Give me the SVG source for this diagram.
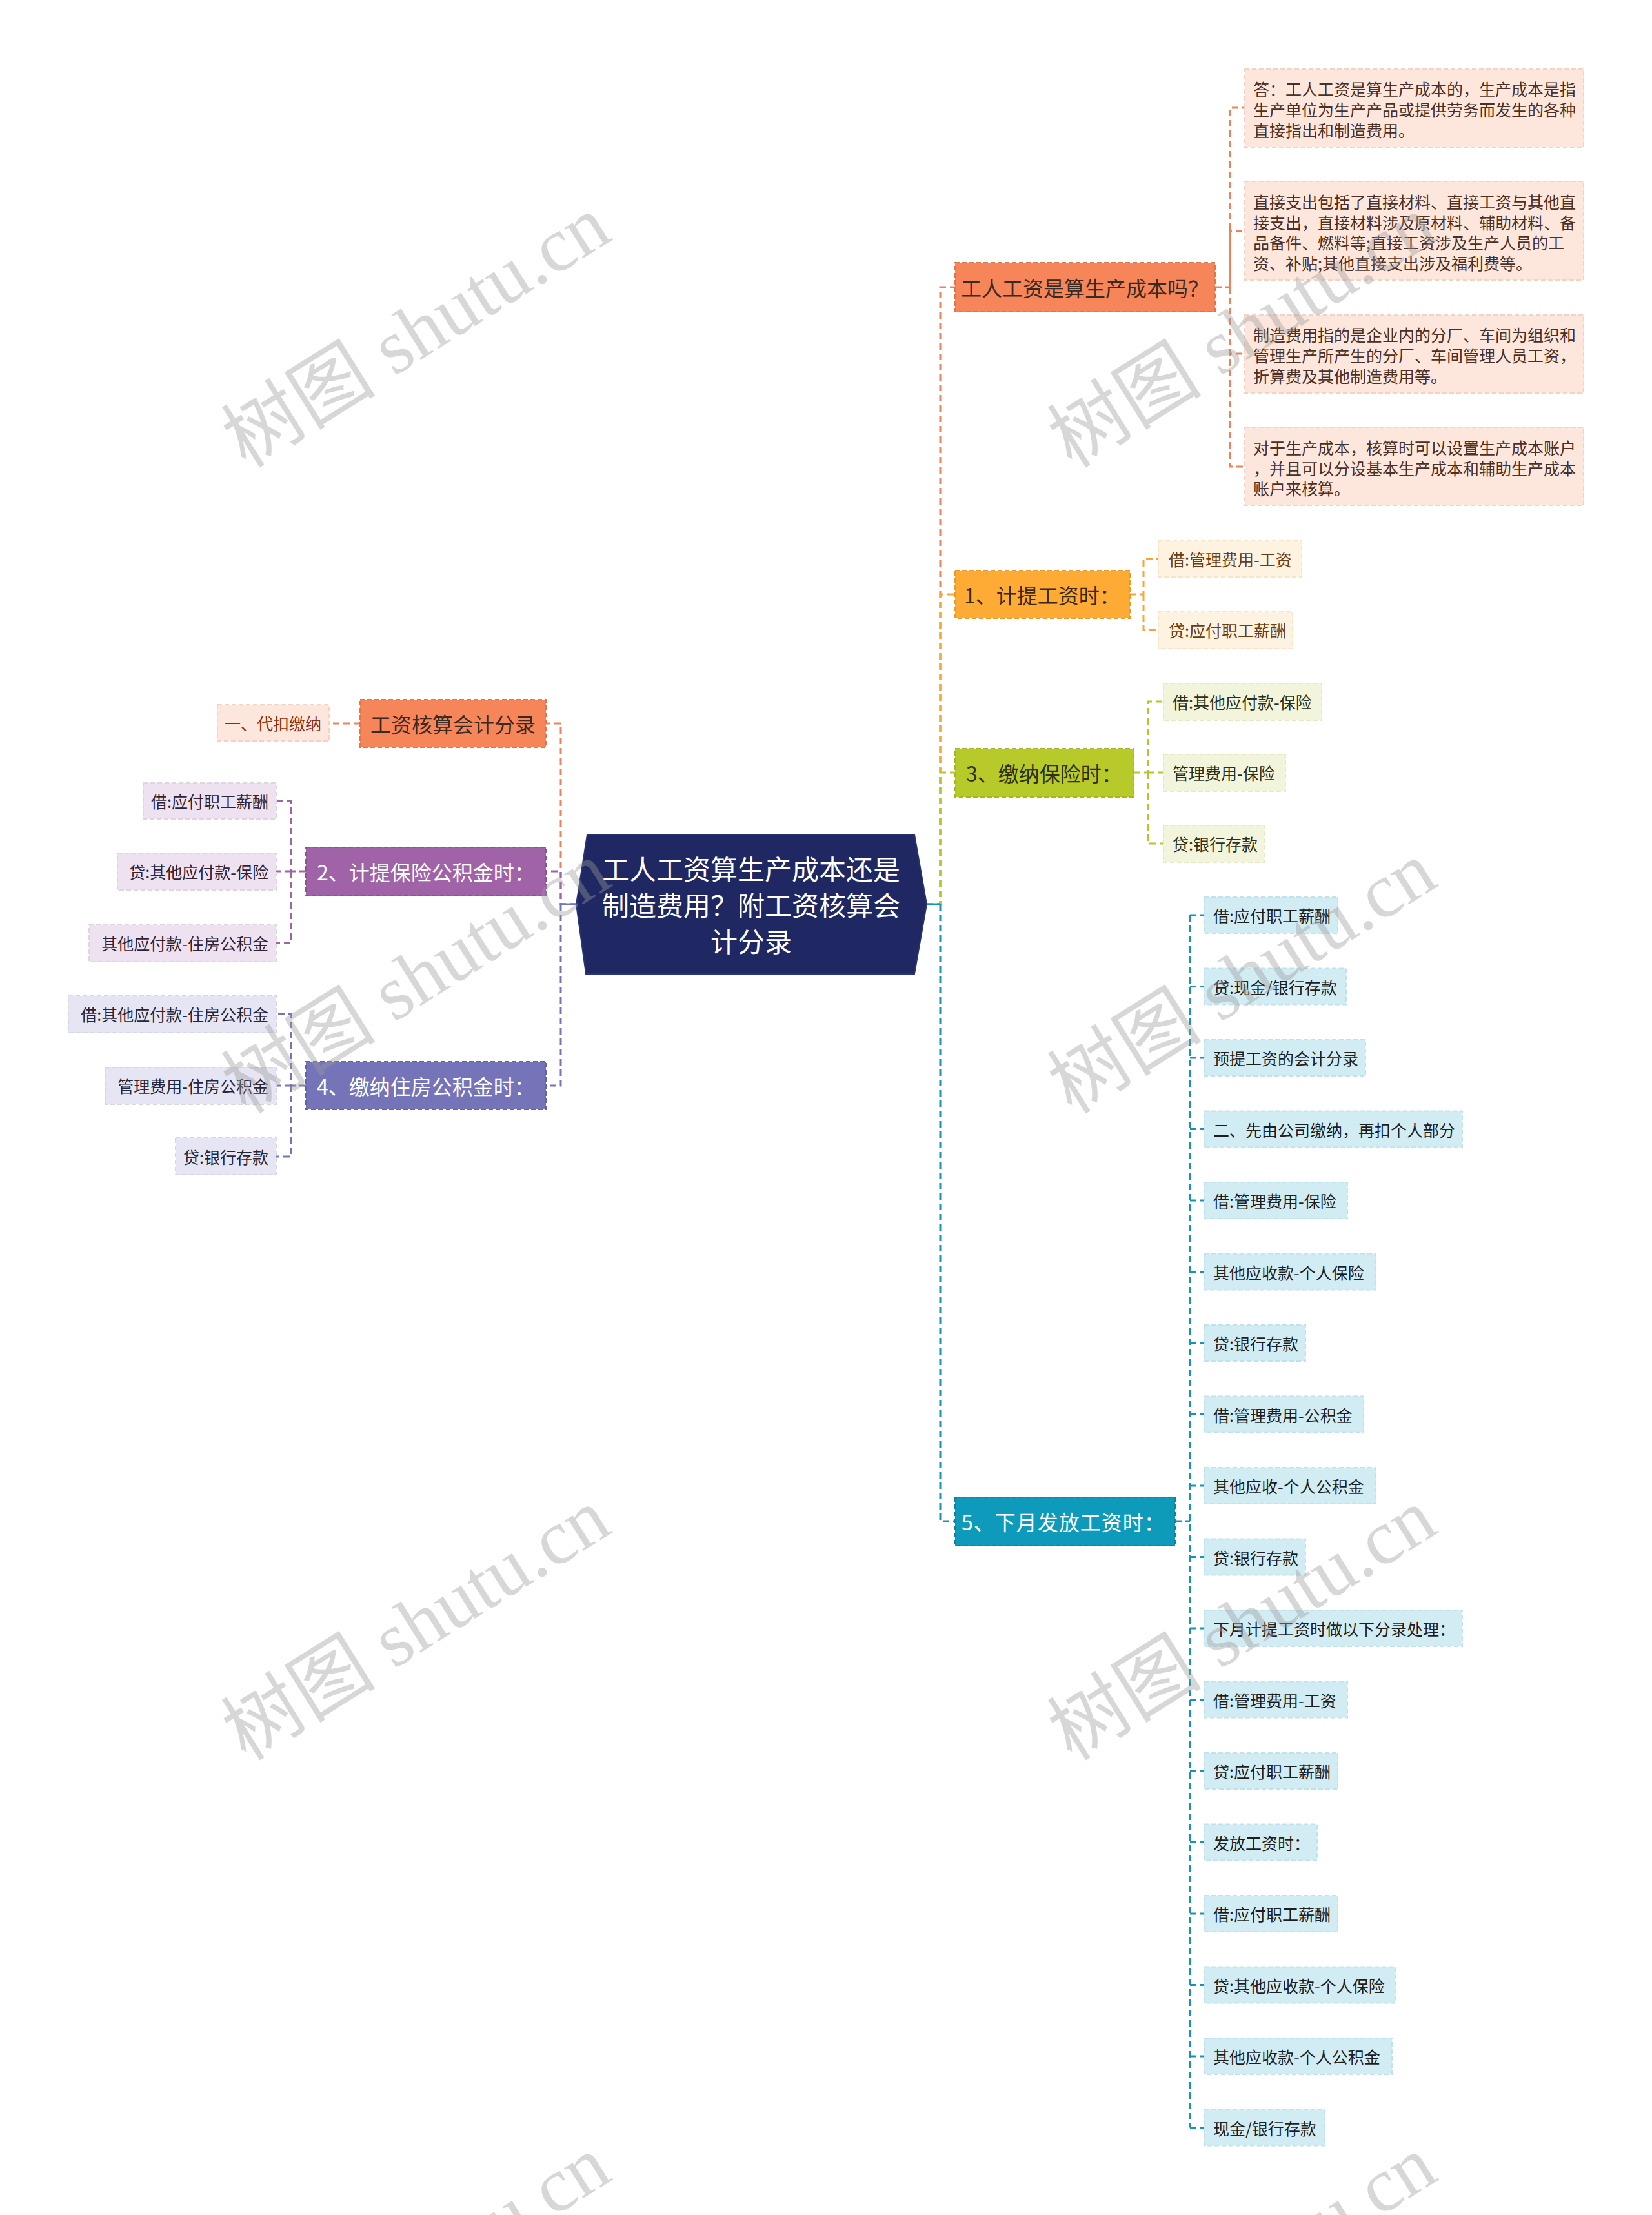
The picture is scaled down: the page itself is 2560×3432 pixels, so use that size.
<svg xmlns="http://www.w3.org/2000/svg" width="2560" height="3432" viewBox="0 0 2560 3432">
<style>
text{font-family:"Noto Sans CJK SC","Noto Sans",sans-serif;dominant-baseline:central}
.conn{fill:none;stroke-width:3;stroke-dasharray:10 6}
.solid{fill:none;stroke-width:3}
.br{stroke-width:2;stroke-dasharray:7 4}
.ch{stroke-width:2;stroke-dasharray:7 4}
.bt{font-size:32px;text-anchor:middle}
.ct{font-size:25px}
.mt{font-size:25px;fill:#4a3026}
.rt{font-size:42px;fill:#ffffff;text-anchor:middle}
.wm{font-family:"Liberation Serif","Noto Sans CJK SC",serif;font-size:120px;text-anchor:middle;fill:#9a9a9a;fill-opacity:0.4}
</style>
<rect width="2560" height="3432" fill="#ffffff"/>

<g id="connectors">
  <!-- right trunk -->
  <path class="conn" stroke="#ef8158" d="M1436 1401 H1457 V445 H1480"/>
  <path class="conn" stroke="#f6a537" d="M1436 1401 H1457 V921 H1480"/>
  <path class="conn" stroke="#b5c62b" d="M1436 1401 H1457 V1197 H1480"/>
  <path class="conn" stroke="#1594b5" d="M1457 1401 V2357 H1480"/>
  <path class="solid" stroke="#1594b5" d="M1436 1401 H1457"/>
  <!-- left trunk -->
  <path class="conn" stroke="#ef8158" d="M893 1401 H869 V1121 H846"/>
  <path class="conn" stroke="#a063a8" d="M893 1401 H869 V1350 H846"/>
  <path class="conn" stroke="#7574b9" d="M869 1401 V1682 H846"/>
  <path class="solid" stroke="#7574b9" d="M893 1401 H869"/>
  <!-- branch 工人工资是算生产成本吗 -->
  <path class="conn" stroke="#ef8158" d="M1883 445 H1906 V167 H1929 M1906 445 V358 H1929 M1906 445 V548 H1929 M1906 445 V723 H1929"/>
  <!-- branch 1 -->
  <path class="conn" stroke="#f6a537" d="M1751 921 H1772 V866 H1795 M1772 921 V976 H1795"/>
  <!-- branch 3 -->
  <path class="conn" stroke="#b5c62b" d="M1757 1197 H1779 V1087 H1803 M1779 1197 H1803 M1779 1197 V1307 H1803"/>
  <!-- branch 5 -->
  <path class="conn" stroke="#1594b5" d="M1821 2357 H1844 M1844 1418 V3296.5 M1844 1418 H1866 M1844 1528.5 H1866 M1844 1639 H1866 M1844 1749.5 H1866 M1844 1860 H1866 M1844 1970.5 H1866 M1844 2081 H1866 M1844 2191.5 H1866 M1844 2302 H1866 M1844 2412.5 H1866 M1844 2523 H1866 M1844 2633.5 H1866 M1844 2744 H1866 M1844 2854.5 H1866 M1844 2965 H1866 M1844 3075.5 H1866 M1844 3186 H1866 M1844 3296.5 H1866"/>
  <!-- left branches -->
  <path class="conn" stroke="#ef8158" d="M558 1121 H510"/>
  <path class="conn" stroke="#a063a8" d="M474 1350 H451 V1241 H428 M451 1350 H428 M451 1350 V1461 H428"/>
  <path class="conn" stroke="#7574b9" d="M474 1682 H451 V1571 H428 M451 1682 H428 M451 1682 V1792 H428"/>
</g>

<g id="root">
  <polygon points="910,1293 1417,1293 1436,1401 1417,1509 908,1509 893,1401" fill="#1f2862" stroke="#2a3470" stroke-width="2"/>
  <text class="rt" x="1164" y="1344">工人工资算生产成本还是</text>
  <text class="rt" x="1164" y="1400">制造费用？附工资核算会</text>
  <text class="rt" x="1164" y="1456">计分录</text>
</g>

<!-- Branch: 工人工资是算生产成本吗 -->
<g id="b-cost">
  <rect class="br" x="1480" y="407" width="403" height="76" fill="#f7855a" stroke="#e4734a"/>
  <text class="bt" x="1681" y="445" fill="#3a2a22">工人工资是算生产成本吗？</text>
</g>
<g id="b-cost-1">
  <rect class="ch" x="1929" y="107" width="525" height="121" fill="#fde6dc" stroke="#f7d2c2"/>
  <text class="mt" x="1942" y="137">答：工人工资是算生产成本的，生产成本是指</text>
  <text class="mt" x="1942" y="169">生产单位为生产产品或提供劳务而发生的各种</text>
  <text class="mt" x="1942" y="201">直接指出和制造费用。</text>
</g>
<g id="b-cost-2">
  <rect class="ch" x="1929" y="281" width="525" height="153" fill="#fde6dc" stroke="#f7d2c2"/>
  <text class="mt" x="1942" y="312">直接支出包括了直接材料、直接工资与其他直</text>
  <text class="mt" x="1942" y="344">接支出，直接材料涉及原材料、辅助材料、备</text>
  <text class="mt" x="1942" y="375">品备件、燃料等;直接工资涉及生产人员的工</text>
  <text class="mt" x="1942" y="407">资、补贴;其他直接支出涉及福利费等。</text>
</g>
<g id="b-cost-3">
  <rect class="ch" x="1929" y="488" width="525" height="121" fill="#fde6dc" stroke="#f7d2c2"/>
  <text class="mt" x="1942" y="518">制造费用指的是企业内的分厂、车间为组织和</text>
  <text class="mt" x="1942" y="550">管理生产所产生的分厂、车间管理人员工资，</text>
  <text class="mt" x="1942" y="582">折算费及其他制造费用等。</text>
</g>
<g id="b-cost-4">
  <rect class="ch" x="1929" y="662" width="525" height="121" fill="#fde6dc" stroke="#f7d2c2"/>
  <text class="mt" x="1942" y="693">对于生产成本，核算时可以设置生产成本账户</text>
  <text class="mt" x="1942" y="725">，并且可以分设基本生产成本和辅助生产成本</text>
  <text class="mt" x="1942" y="756">账户来核算。</text>
</g>

<!-- Branch 1 -->
<g id="b1">
  <rect class="br" x="1480" y="884" width="271" height="74" fill="#fdab35" stroke="#ee9a22"/>
  <text class="bt" x="1615" y="921" fill="#3a2a12">1、计提工资时：</text>
</g>
<g id="b1-1">
  <rect class="ch" x="1795" y="838" width="222" height="56" fill="#fef2e0" stroke="#f8e4c6"/>
  <text class="ct" x="1811" y="866" fill="#6b3d10">借:管理费用-工资</text>
</g>
<g id="b1-2">
  <rect class="ch" x="1795" y="948" width="208" height="57" fill="#fef2e0" stroke="#f8e4c6"/>
  <text class="ct" x="1811" y="976" fill="#6b3d10">贷:应付职工薪酬</text>
</g>

<!-- Branch 3 -->
<g id="b3">
  <rect class="br" x="1480" y="1160" width="277" height="75" fill="#b8c92a" stroke="#a6b820"/>
  <text class="bt" x="1618" y="1197" fill="#2e3210">3、缴纳保险时：</text>
</g>
<g id="b3-1">
  <rect class="ch" x="1803" y="1059" width="245" height="57" fill="#f2f5dc" stroke="#e4eac4"/>
  <text class="ct" x="1817" y="1087" fill="#2a3018">借:其他应付款-保险</text>
</g>
<g id="b3-2">
  <rect class="ch" x="1803" y="1169" width="189" height="57" fill="#f2f5dc" stroke="#e4eac4"/>
  <text class="ct" x="1817" y="1197" fill="#2a3018">管理费用-保险</text>
</g>
<g id="b3-3">
  <rect class="ch" x="1803" y="1279" width="156" height="57" fill="#f2f5dc" stroke="#e4eac4"/>
  <text class="ct" x="1817" y="1307" fill="#2a3018">贷:银行存款</text>
</g>

<!-- Branch 5 -->
<g id="b5">
  <rect class="br" x="1480" y="2320" width="341" height="75" fill="#0e9abb" stroke="#0a86a4"/>
  <text class="bt" x="1648" y="2357" fill="#ffffff" letter-spacing="1">5、下月发放工资时：</text>
</g>
<g id="b5-children" fill="#d2ecf4">
  <g id="b5-1"><rect class="ch" x="1866" y="1390" width="207" height="56" stroke="#bfe2ee"/><text class="ct" x="1880" y="1418" fill="#1e1e1e">借:应付职工薪酬</text></g>
  <g id="b5-2"><rect class="ch" x="1866" y="1500.5" width="220" height="56" stroke="#bfe2ee"/><text class="ct" x="1880" y="1528.5" fill="#1e1e1e">贷:现金/银行存款</text></g>
  <g id="b5-3"><rect class="ch" x="1866" y="1611" width="250" height="56" stroke="#bfe2ee"/><text class="ct" x="1880" y="1639" fill="#1e1e1e">预提工资的会计分录</text></g>
  <g id="b5-4"><rect class="ch" x="1866" y="1721.5" width="400" height="56" stroke="#bfe2ee"/><text class="ct" x="1880" y="1749.5" fill="#1e1e1e">二、先由公司缴纳，再扣个人部分</text></g>
  <g id="b5-5"><rect class="ch" x="1866" y="1832" width="222" height="56" stroke="#bfe2ee"/><text class="ct" x="1880" y="1860" fill="#1e1e1e">借:管理费用-保险</text></g>
  <g id="b5-6"><rect class="ch" x="1866" y="1942.5" width="266" height="56" stroke="#bfe2ee"/><text class="ct" x="1880" y="1970.5" fill="#1e1e1e">其他应收款-个人保险</text></g>
  <g id="b5-7"><rect class="ch" x="1866" y="2053" width="157" height="56" stroke="#bfe2ee"/><text class="ct" x="1880" y="2081" fill="#1e1e1e">贷:银行存款</text></g>
  <g id="b5-8"><rect class="ch" x="1866" y="2163.5" width="247" height="56" stroke="#bfe2ee"/><text class="ct" x="1880" y="2191.5" fill="#1e1e1e">借:管理费用-公积金</text></g>
  <g id="b5-9"><rect class="ch" x="1866" y="2274" width="266" height="56" stroke="#bfe2ee"/><text class="ct" x="1880" y="2302" fill="#1e1e1e">其他应收-个人公积金</text></g>
  <g id="b5-10"><rect class="ch" x="1866" y="2384.5" width="157" height="56" stroke="#bfe2ee"/><text class="ct" x="1880" y="2412.5" fill="#1e1e1e">贷:银行存款</text></g>
  <g id="b5-11"><rect class="ch" x="1866" y="2495" width="400" height="56" stroke="#bfe2ee"/><text class="ct" x="1880" y="2523" fill="#1e1e1e">下月计提工资时做以下分录处理：</text></g>
  <g id="b5-12"><rect class="ch" x="1866" y="2605.5" width="222" height="56" stroke="#bfe2ee"/><text class="ct" x="1880" y="2633.5" fill="#1e1e1e">借:管理费用-工资</text></g>
  <g id="b5-13"><rect class="ch" x="1866" y="2716" width="207" height="56" stroke="#bfe2ee"/><text class="ct" x="1880" y="2744" fill="#1e1e1e">贷:应付职工薪酬</text></g>
  <g id="b5-14"><rect class="ch" x="1866" y="2826.5" width="175" height="56" stroke="#bfe2ee"/><text class="ct" x="1880" y="2854.5" fill="#1e1e1e">发放工资时：</text></g>
  <g id="b5-15"><rect class="ch" x="1866" y="2937" width="207" height="56" stroke="#bfe2ee"/><text class="ct" x="1880" y="2965" fill="#1e1e1e">借:应付职工薪酬</text></g>
  <g id="b5-16"><rect class="ch" x="1866" y="3047.5" width="296" height="56" stroke="#bfe2ee"/><text class="ct" x="1880" y="3075.5" fill="#1e1e1e">贷:其他应收款-个人保险</text></g>
  <g id="b5-17"><rect class="ch" x="1866" y="3158" width="291" height="56" stroke="#bfe2ee"/><text class="ct" x="1880" y="3186" fill="#1e1e1e">其他应收款-个人公积金</text></g>
  <g id="b5-18"><rect class="ch" x="1866" y="3268.5" width="187" height="56" stroke="#bfe2ee"/><text class="ct" x="1880" y="3296.5" fill="#1e1e1e">现金/银行存款</text></g>
</g>

<!-- Left: 工资核算会计分录 -->
<g id="l1">
  <rect class="br" x="558" y="1084" width="288" height="74" fill="#f7855a" stroke="#e4734a"/>
  <text class="bt" x="702" y="1121" fill="#3a2a22">工资核算会计分录</text>
</g>
<g id="l1-1">
  <rect class="ch" x="337" y="1092" width="173" height="56" fill="#fde6dc" stroke="#f7d2c2"/>
  <text class="ct" x="423" y="1120" fill="#8b2d0e" text-anchor="middle">一、代扣缴纳</text>
</g>

<!-- Left: 2 -->
<g id="l2">
  <rect class="br" x="474" y="1313" width="372" height="75" fill="#a063a8" stroke="#8e5396"/>
  <text class="bt" x="660" y="1350" fill="#ffffff">2、计提保险公积金时：</text>
</g>
<g id="l2-1">
  <rect class="ch" x="222" y="1213" width="206" height="56" fill="#eee2f0" stroke="#e2d2e6"/>
  <text class="ct" x="416" y="1241" fill="#2e2436" text-anchor="end">借:应付职工薪酬</text>
</g>
<g id="l2-2">
  <rect class="ch" x="182" y="1322" width="246" height="57" fill="#eee2f0" stroke="#e2d2e6"/>
  <text class="ct" x="416" y="1350" fill="#2e2436" text-anchor="end">贷:其他应付款-保险</text>
</g>
<g id="l2-3">
  <rect class="ch" x="138" y="1433" width="290" height="57" fill="#eee2f0" stroke="#e2d2e6"/>
  <text class="ct" x="416" y="1461" fill="#2e2436" text-anchor="end">其他应付款-住房公积金</text>
</g>

<!-- Left: 4 -->
<g id="l4">
  <rect class="br" x="474" y="1645" width="372" height="74" fill="#7574b9" stroke="#6363a8"/>
  <text class="bt" x="660" y="1682" fill="#ffffff">4、缴纳住房公积金时：</text>
</g>
<g id="l4-1">
  <rect class="ch" x="106" y="1543" width="322" height="57" fill="#e5e5f3" stroke="#d6d6ea"/>
  <text class="ct" x="416" y="1571" fill="#26263a" text-anchor="end">借:其他应付款-住房公积金</text>
</g>
<g id="l4-2">
  <rect class="ch" x="163" y="1654" width="265" height="57" fill="#e5e5f3" stroke="#d6d6ea"/>
  <text class="ct" x="416" y="1682" fill="#26263a" text-anchor="end">管理费用-住房公积金</text>
</g>
<g id="l4-3">
  <rect class="ch" x="272" y="1763" width="156" height="57" fill="#e5e5f3" stroke="#d6d6ea"/>
  <text class="ct" x="416" y="1792" fill="#26263a" text-anchor="end">贷:银行存款</text>
</g>

<g id="watermarks">
  <text class="wm" transform="translate(645,514) rotate(-32)">树图 shutu.cn</text>
  <text class="wm" transform="translate(1925,514) rotate(-32)">树图 shutu.cn</text>
  <text class="wm" transform="translate(645,1515) rotate(-32)">树图 shutu.cn</text>
  <text class="wm" transform="translate(1925,1515) rotate(-32)">树图 shutu.cn</text>
  <text class="wm" transform="translate(645,2517) rotate(-32)">树图 shutu.cn</text>
  <text class="wm" transform="translate(1925,2517) rotate(-32)">树图 shutu.cn</text>
  <text class="wm" transform="translate(645,3520) rotate(-32)">树图 shutu.cn</text>
  <text class="wm" transform="translate(1925,3520) rotate(-32)">树图 shutu.cn</text>
</g>
</svg>
